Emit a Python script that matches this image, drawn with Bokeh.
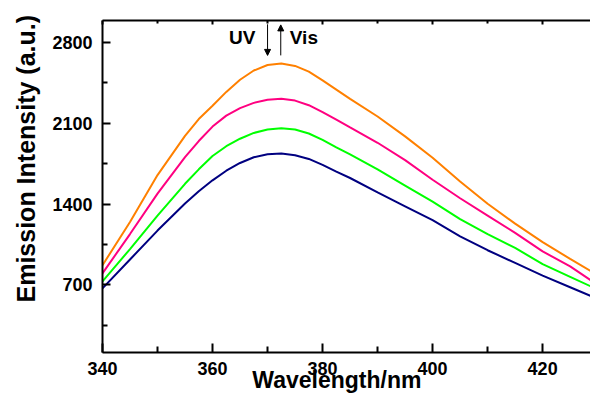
from bokeh.plotting import figure
from bokeh.models import (LinearAxis, FixedTicker, Label, Arrow, NormalHead, Range1d)
from bokeh.embed import file_html
from bokeh.resources import INLINE

# ---- data ----
wavelength = [340, 345, 350, 355, 357.5, 360, 362.5, 365, 367.5, 370, 372.5, 375, 377.5,
              380, 382.5, 385, 390, 395, 400, 405, 410, 415, 420, 425, 430]
orange = [870, 1245, 1650, 1990, 2135, 2250, 2370, 2475, 2555, 2603, 2615, 2595, 2545,
          2470, 2390, 2310, 2157, 1985, 1800, 1595, 1402, 1230, 1070, 925, 785]
pink = [800, 1140, 1490, 1805, 1945, 2070, 2165, 2230, 2275, 2302, 2310, 2295, 2255,
        2195, 2130, 2063, 1930, 1780, 1610, 1450, 1300, 1150, 990, 860, 700]
green = [730, 1010, 1300, 1575, 1700, 1815, 1900, 1965, 2015, 2045, 2055, 2045, 2010,
         1955, 1890, 1829, 1700, 1560, 1420, 1270, 1140, 1020, 880, 770, 660]
blue = [670, 920, 1170, 1405, 1510, 1605, 1688, 1755, 1805, 1830, 1837, 1822, 1790,
        1738, 1680, 1625, 1500, 1380, 1260, 1120, 1000, 890, 780, 680, 580]
series = [(orange, "#FF8000"), (pink, "#FF0080"), (green, "#00FF00"), (blue, "#000080")]

x_major = [340, 360, 380, 400, 420]
x_minor = [350, 370, 390, 410]
y_major = [700, 1400, 2100, 2800]
y_minor = [350, 1050, 1750, 2450]

FONT = "Liberation Sans"
NB = "\u00a0"

p = figure(width=590, height=395, output_backend="svg", toolbar_location=None,
           x_range=Range1d(340, 428.7), y_range=Range1d(115, 2988),
           min_border_left=102, min_border_top=20, min_border_right=0, min_border_bottom=42,
           x_axis_location=None, y_axis_location=None)
p.outline_line_color = None
p.grid.visible = False
p.background_fill_color = "white"
p.border_fill_color = "white"

for ys, c in series:
    p.line(wavelength, ys, line_color=c, line_width=2)

def style(ax):
    ax.axis_line_width = 2
    ax.axis_line_color = "black"
    ax.major_tick_line_width = 2
    ax.minor_tick_line_width = 2
    ax.major_tick_out = 0
    ax.minor_tick_out = 0
    ax.major_label_text_font = FONT
    ax.major_label_text_font_style = "bold"
    ax.major_label_text_font_size = "18px"
    ax.major_label_text_color = "black"
    ax.axis_label_text_font = FONT
    ax.axis_label_text_font_style = "bold"
    ax.axis_label_text_color = "black"

xb = LinearAxis(ticker=FixedTicker(ticks=x_major, minor_ticks=x_minor))
style(xb)
xb.major_tick_in = 9
xb.minor_tick_in = 6
xb.major_label_standoff = 9
xb.axis_label = "Wavelength/nm" + NB * 3
xb.axis_label_text_font_size = "23px"
xb.axis_label_standoff = -11
p.add_layout(xb, "below")

xt = LinearAxis(ticker=FixedTicker(ticks=x_major, minor_ticks=x_minor))
style(xt)
xt.major_tick_in = 4
xt.minor_tick_in = 3
xt.major_label_text_font_size = "10px"
xt.major_label_overrides = {t: "" for t in x_major}
xt.major_label_standoff = 0
p.add_layout(xt, "above")

yl = LinearAxis(ticker=FixedTicker(ticks=y_major, minor_ticks=y_minor))
style(yl)
yl.major_tick_in = 8
yl.minor_tick_in = 5
yl.major_label_standoff = 10
yl.axis_label = NB * 8 + "Emission Intensity (a.u.)"
yl.axis_label_text_font_size = "25px"
yl.axis_label_standoff = 9
p.add_layout(yl, "left")

# UV / Vis annotation
p.add_layout(Label(x=365.4, y=2844, text="UV", text_font=FONT, text_font_style="bold",
                   text_font_size="19px", text_align="center", text_baseline="middle",
                   text_color="black"))
p.add_layout(Label(x=376.6, y=2844, text="Vis", text_font=FONT, text_font_style="bold",
                   text_font_size="19px", text_align="center", text_baseline="middle",
                   text_color="black"))
p.add_layout(Arrow(x_start=370.0, y_start=2955, x_end=370.0, y_end=2686, line_width=1,
                   end=NormalHead(size=6, fill_color="black", line_color="black")))
p.add_layout(Arrow(x_start=372.4, y_start=2686, x_end=372.4, y_end=2950, line_width=1,
                   end=NormalHead(size=6, fill_color="black", line_color="black")))

open("out.html", "w").write(file_html(p, INLINE))
